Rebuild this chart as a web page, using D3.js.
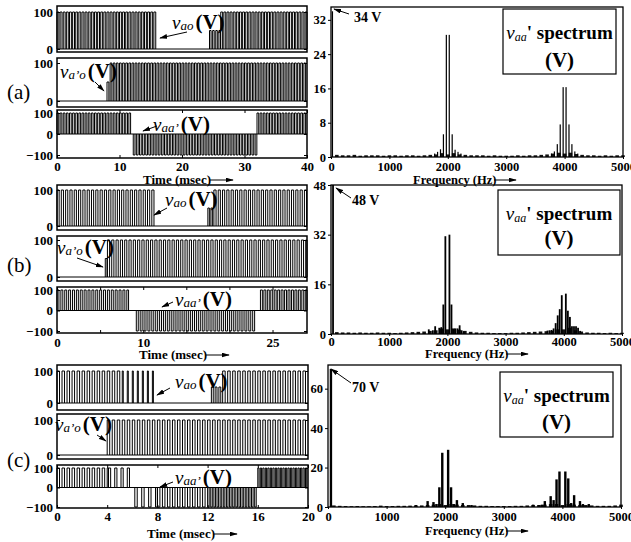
<!DOCTYPE html>
<html>
<head>
<meta charset="utf-8">
<script src="https://cdn.jsdelivr.net/npm/d3@7"></script>
<style>
body { margin: 0; background: #fff; }
svg { display: block; }
text { font-family: "Liberation Serif", "Tinos", "Times New Roman", "DejaVu Serif", serif; }
</style>
</head>
<body>
<svg width="631" height="542"></svg>
<script>
'use strict'

// ---------- data ----------
// pulse segments: [start ms, end ms, level V, duty, period ms]
// (a) 40 ms window
const timeTicksA = [0, 10, 20, 30, 40]
const timeLabelsA = [0, 10, 20, 30, 40]
const vaoA = [[0, 16, 100, 0.6, 0.5], [24.4, 26.2, 50, 0.5, 0.5], [26.2, 40, 100, 0.6, 0.5]]
const vapoA = [[8, 8.5, 50, 0.6, 0.5], [8.5, 40, 100, 0.55, 0.5]]
const vaaA = [[0, 12, 100, 0.55, 0.5], [12.2, 32, -100, 0.55, 0.5], [32, 40, 100, 0.55, 0.5]]

// (b) ~29 ms window
const timeTicksB = [0, 5, 10, 15, 20, 25]
const timeLabelsB = [0, 10, 25]
const vaoB = [[0, 11.4, 100, 0.5, 0.5], [17.5, 18.2, 50, 0.5, 0.35], [18.2, 29, 100, 0.5, 0.5]]
const vapoB = [[5.6, 5.85, 50, 0.8, 0.25], [5.85, 29, 100, 0.5, 0.5]]
const vaaB = [[0, 8.3, 100, 0.5, 0.45], [9.2, 23, -100, 0.5, 0.45], [23.6, 29, 100, 0.55, 0.4]]

// (c) 20 ms window
const timeTicksC = [0, 4, 8, 12, 16, 20]
const timeLabelsC = [0, 4, 8, 12, 16, 20]
const vaoC = [[0, 5.2, 100, 0.5, 0.4], [5.2, 7.8, 100, 0.2, 0.4], [12.3, 13.2, 50, 0.5, 0.3], [13.2, 20, 100, 0.5, 0.4]]
const vapoC = [[4, 20, 100, 0.5, 0.4]]
const vaaC = [[0, 4.1, 100, 0.5, 0.4], [4.1, 5.9, 100, 0.35, 0.5], [6.2, 8, -100, 0.35, 0.55],
  [8, 12, -100, 0.5, 0.4], [12, 16, -100, 0.5, 0.25], [16, 20, 100, 0.5, 0.2]]

// spectra of vaa' (Hz, V)
const specFreqA = [25, 1775, 1825, 1875, 1925, 1975, 2025, 2075, 2125, 2175, 2225,
  3775, 3825, 3875, 3925, 3975, 4025, 4075, 4125, 4175, 4225]
const specAmpA = [34, 0.8, 1.2, 1.8, 5.3, 28.5, 28.5, 5.3, 1.7, 1.2, 0.8,
  0.8, 1.3, 3, 7.6, 16.3, 16.3, 7.6, 3, 1.3, 0.8]
const specTicksA = [0, 8, 16, 24, 32]

const specFreqB = [35, 1680, 1750, 1790, 1860, 1895, 1930, 1965, 2035, 2070, 2105, 2140, 2175, 2210, 2245, 2280,
  3720, 3755, 3790, 3825, 3860, 3895, 3930, 3965, 4035, 4070, 4105, 4140, 4175, 4210, 4245, 4280]
const specAmpB = [48, 1.5, 1.2, 2.5, 2, 2.2, 9.5, 31.5, 32, 9.5, 1.5, 1.8, 1.8, 2.8, 1.2, 0.8,
  1.1, 1.2, 1.3, 1.8, 3.5, 6, 8, 12.5, 13, 7.5, 5.5, 2.5, 2.5, 2.5, 2, 1]
const specTicksB = [0, 16, 32, 48]

const specFreqC = [50, 1500, 1700, 1800, 1850, 1900, 1950, 2050, 2100, 2150, 2200, 2300, 2450,
  3500, 3600, 3650, 3700, 3800, 3850, 3900, 3950, 4050, 4100, 4150, 4200, 4300, 4350, 4450]
const specAmpC = [70, 1, 3, 2.5, 1.5, 10, 27.5, 29, 10, 1.5, 3.5, 2, 1,
  1.2, 1, 1.2, 3, 5.5, 3.5, 14, 18, 18, 14.5, 2, 6, 3, 1.5, 1.5]
const specTicksC = [0, 20, 40, 60]

// low-level background, one value per 100 Hz (100 ... 5000 Hz)
const floorFreqs = d3.range(100, 5001, 100)
const floorA = [0.5, 0.4, 0.4, 0.5, 0.3, 0.4, 0.4, 0.4, 0.3, 0.4,
  0.4, 0.3, 0.4, 0.4, 0.3, 0.4, 0.5, 0.6, 0.9, 0.6,
  0.9, 0.6, 0.5, 0.4, 0.4, 0.4, 0.3, 0.4, 0.3, 0.3,
  0.3, 0.4, 0.3, 0.4, 0.4, 0.5, 0.6, 0.8, 1.0, 0.8,
  1.0, 0.7, 0.5, 0.4, 0.4, 0.3, 0.4, 0.3, 0.4, 0.4]
const floorB = [0.6, 0.5, 0.5, 0.4, 0.5, 0.4, 0.4, 0.5, 0.4, 0.4,
  0.3, 0.4, 0.5, 0.6, 0.7, 0.8, 1.0, 1.2, 1.8, 1.5,
  1.8, 1.4, 1.0, 0.7, 0.5, 0.4, 0.4, 0.3, 0.3, 0.3,
  0.4, 0.4, 0.5, 0.6, 0.7, 0.8, 0.9, 1.0, 1.5, 1.5,
  2.0, 1.2, 0.8, 0.5, 0.4, 0.4, 0.3, 0.4, 0.3, 0.4]
const floorC = [0.8, 0.6, 0.5, 0.4, 0.5, 0.4, 0.4, 0.5, 0.7, 0.5,
  0.5, 0.6, 0.6, 0.7, 0.8, 0.8, 1.0, 1.2, 1.5, 1.0,
  1.5, 1.2, 1.0, 1.0, 0.8, 0.6, 0.6, 0.5, 0.5, 0.5,
  0.5, 0.6, 0.6, 0.8, 1.0, 1.0, 1.2, 1.5, 1.5, 1.0,
  1.5, 1.2, 1.0, 1.0, 0.8, 0.6, 0.6, 0.6, 0.8, 1.2]
const freqTicks = [0, 1000, 2000, 3000, 4000, 5000]

// ---------- drawing ----------
const svg = d3.select('svg')

const head = svg.append('defs').append('marker')
    .attr('id', 'head')
    .attr('viewBox', '0 0 10 6')
    .attr('refX', 9)
    .attr('refY', 3)
    .attr('markerWidth', 8)
    .attr('markerHeight', 5)
    .attr('markerUnits', 'userSpaceOnUse')
    .attr('orient', 'auto')
head.append('path').attr('d', 'M0,0L10,3L0,6Z')

function arrow(x1, y1, x2, y2) {
    svg.append('line')
        .attr('x1', x1).attr('y1', y1)
        .attr('x2', x2).attr('y2', y2)
        .attr('stroke', '#000')
        .attr('stroke-width', 1)
        .attr('marker-end', 'url(#head)')
}

function styleAxis(g, size) {
    g.attr('font-size', size).attr('font-weight', 'bold')
    g.select('.domain').remove()
}

// one waveform strip
function strip(b, dom, x0, x1, segs) {
    const x = d3.scaleLinear().domain(dom).range([x0, x1])
    const y = d3.scaleLinear().domain([b.lo, 100]).range([b.yLo, b.y100])
    const g = svg.append('g')

    let d = `M${x(dom[0])},${y(0)}H${x(dom[1])}`
    segs.forEach(([t0, t1, lev, duty, per]) => {
        for (let t = t0; t < t1 - 1e-6; t += per) {
            const te = Math.min(t + duty * per, t1)
            d += `M${x(t)},${y(0)}V${y(lev)}H${x(te)}V${y(0)}`
        }
    })
    g.append('path')
        .attr('d', d)
        .attr('fill', 'none')
        .attr('stroke', '#000')
        .attr('stroke-width', 1)

    g.append('rect')
        .attr('x', x0).attr('y', b.top)
        .attr('width', x1 - x0).attr('height', b.bottom - b.top)
        .attr('fill', 'none').attr('stroke', '#000').attr('stroke-width', 1.5)

    const vals = b.lo < 0 ? [-100, 0, 100] : [0, 100]
    g.append('g')
        .attr('transform', `translate(${x0},0)`)
        .call(d3.axisLeft(y).tickValues(vals).tickSize(-3).tickPadding(4))
        .call(a => styleAxis(a, 13))
    g.append('g')
        .attr('transform', `translate(${x1},0)`)
        .call(d3.axisRight(y).tickValues(vals).tickSize(-3).tickFormat(''))
        .call(a => a.select('.domain').remove())
    return { x, g }
}

function timePanel(p, segsList, ticks, labels) {
    let last
    p.boxes.forEach((b, i) => { last = strip(b, p.dom, p.x0, p.x1, segsList[i]) })
    const b = p.boxes[2]
    last.g.append('g')
        .attr('transform', `translate(0,${b.bottom})`)
        .call(d3.axisBottom(last.x).tickValues(ticks).tickSize(-3).tickPadding(p.pad)
            .tickFormat(d => labels.includes(d) ? d : ''))
        .call(a => styleAxis(a, 13))
    last.g.append('g')
        .attr('transform', `translate(0,${b.top})`)
        .call(d3.axisTop(last.x).tickValues(ticks).tickSize(-3).tickFormat(''))
        .call(a => a.select('.domain').remove())

    svg.append('text')
        .attr('x', p.tx).attr('y', p.ty)
        .attr('font-size', 13).attr('font-weight', 'bold')
        .text('Time (msec)')
    arrow(p.tx + 67, p.ty - 4, p.tx + 90, p.ty - 4)
}

function spectrum(p, freqs, amps, floor, ticks) {
    const x = d3.scaleLinear().domain([0, 5000]).range([p.x0, p.x1])
    const y = d3.scaleLinear().domain([0, p.ymax]).range([p.y0, p.top])
    const g = svg.append('g')

    g.append('g').selectAll('rect')
        .data(floor)
        .join('rect')
        .attr('x', (d, i) => x(floorFreqs[i]) - 1.8)
        .attr('width', 3.6)
        .attr('y', d => y(d))
        .attr('height', d => y(0) - y(d))
        .attr('fill', '#111')

    g.append('g').selectAll('rect')
        .data(freqs)
        .join('rect')
        .attr('x', d => x(d) - p.bw / 2)
        .attr('width', p.bw)
        .attr('y', (d, i) => y(amps[i]))
        .attr('height', (d, i) => y(0) - y(amps[i]))
        .attr('fill', '#000')

    g.append('rect')
        .attr('x', p.x0).attr('y', p.top)
        .attr('width', p.x1 - p.x0).attr('height', p.y0 - p.top)
        .attr('fill', 'none').attr('stroke', '#000').attr('stroke-width', 1.3)

    g.append('g')
        .attr('transform', `translate(${p.x0},0)`)
        .call(d3.axisLeft(y).tickValues(ticks).tickSize(3).tickPadding(2))
        .call(a => styleAxis(a, 12.5))
    g.append('g')
        .attr('transform', `translate(0,${p.y0})`)
        .call(d3.axisBottom(x).tickValues(freqTicks).tickSize(2).tickPadding(p.pad)
            .tickFormat(d3.format('d')))
        .call(a => styleAxis(a, 12.5))

    // peak note
    svg.append('text')
        .attr('x', p.nx).attr('y', p.ny)
        .attr('font-size', 14).attr('font-weight', 'bold')
        .text(p.note)
    arrow(p.ax1, p.ay1, p.ax2, p.ay2)

    // legend box
    const lg = svg.append('g')
    lg.append('rect')
        .attr('x', p.lx0).attr('y', p.ly0)
        .attr('width', p.lx1 - p.lx0).attr('height', p.ly1 - p.ly0)
        .attr('fill', '#fff').attr('stroke', '#000').attr('stroke-width', 1.2)
    const cx = (p.lx0 + p.lx1) / 2
    const t1 = lg.append('text').attr('x', cx).attr('y', p.l1).attr('text-anchor', 'middle')
    t1.append('tspan').attr('font-style', 'italic').attr('font-size', 19).text('v')
    t1.append('tspan').attr('font-style', 'italic').attr('font-size', 12).attr('dy', 2).text('aa')
    t1.append('tspan').attr('font-weight', 'bold').attr('font-size', 19).attr('dy', -2).text('\' spectrum')
    lg.append('text').attr('x', cx).attr('y', p.l2).attr('text-anchor', 'middle')
        .attr('font-weight', 'bold').attr('font-size', 21).text('(V)')

    svg.append('text')
        .attr('x', p.fx).attr('y', p.fy)
        .attr('font-size', 12.5).attr('font-weight', 'bold')
        .text('Frequency (Hz)')
    arrow(p.fx + 81, p.fy - 4, p.fx + 103, p.fy - 4)
}

function vLabel(x, y, sub, ax1, ay1, ax2, ay2) {
    const t = svg.append('text').attr('x', x).attr('y', y)
    t.append('tspan').attr('font-style', 'italic').attr('font-size', 19).text('v')
    t.append('tspan').attr('font-style', 'italic').attr('font-size', 13).attr('dy', 1).text(sub)
    t.append('tspan').attr('font-weight', 'bold').attr('font-size', 21).attr('dy', -1).attr('dx', 2).text('(V)')
    arrow(ax1, ay1, ax2, ay2)
}

function panelTag(y, s) {
    svg.append('text').attr('x', 7).attr('y', y).attr('font-size', 21).text(s)
}

// ----- panel (a)
timePanel({
    dom: [0, 40], x0: 57, x1: 307, pad: 4, tx: 143, ty: 184,
    boxes: [
        { top: 6, bottom: 52, y100: 12, yLo: 49, lo: 0 },
        { top: 58, bottom: 107, y100: 63, yLo: 101, lo: 0 },
        { top: 110, bottom: 158, y100: 113, yLo: 155, lo: -100 }
    ]
}, [vaoA, vapoA, vaaA], timeTicksA, timeLabelsA)
spectrum({
    x0: 331, x1: 623, top: 7, y0: 157, ymax: 35, bw: 1.2, pad: 3,
    note: '34 V', nx: 354, ny: 22, ax1: 349, ay1: 14, ax2: 334, ay2: 9,
    lx0: 503, lx1: 616, ly0: 9, ly1: 74, l1: 39, l2: 67,
    fx: 413, fy: 184
}, specFreqA, specAmpA, floorA, specTicksA)
vLabel(172, 29, 'ao', 187, 32, 160, 38)
vLabel(60, 78, 'a\u2019o', 95, 82, 104, 91)
vLabel(153, 131, 'aa\u2019', 157, 126, 143, 131)
panelTag(99, '(a)')

// ----- panel (b)
timePanel({
    dom: [0, 29], x0: 57, x1: 307, pad: 5, tx: 139, ty: 359,
    boxes: [
        { top: 185, bottom: 230, y100: 190, yLo: 226, lo: 0 },
        { top: 236, bottom: 281, y100: 240, yLo: 277, lo: 0 },
        { top: 287, bottom: 333, y100: 290, yLo: 331, lo: -100 }
    ]
}, [vaoB, vapoB, vaaB], timeTicksB, timeLabelsB)
spectrum({
    x0: 331, x1: 622, top: 185, y0: 334, ymax: 48, bw: 1.8, pad: 1.5,
    note: '48 V', nx: 352, ny: 205, ax1: 351, ay1: 198, ax2: 336, ay2: 188,
    lx0: 498, lx1: 620, ly0: 190, ly1: 255, l1: 220, l2: 245,
    fx: 425, fy: 358
}, specFreqB, specAmpB, floorB, specTicksB)
vLabel(165, 206, 'ao', 167, 208, 154, 215)
vLabel(57, 254, 'a\u2019o', 77, 258, 103, 267)
vLabel(175, 306, 'aa\u2019', 173, 302, 162, 307)
panelTag(272, '(b)')

// ----- panel (c)
timePanel({
    dom: [0, 20], x0: 57, x1: 308, pad: 4, tx: 147, ty: 538,
    boxes: [
        { top: 365, bottom: 410, y100: 371, yLo: 403, lo: 0 },
        { top: 414, bottom: 459, y100: 420, yLo: 455, lo: 0 },
        { top: 465, bottom: 508, y100: 468, yLo: 507, lo: -100 }
    ]
}, [vaoC, vapoC, vaaC], timeTicksC, timeLabelsC)
spectrum({
    x0: 328, x1: 621, top: 365, y0: 507, ymax: 72, bw: 2.4, pad: 3,
    note: '70 V', nx: 352, ny: 392, ax1: 351, ay1: 383, ax2: 331, ay2: 369,
    lx0: 500, lx1: 613, ly0: 372, ly1: 437, l1: 402, l2: 429,
    fx: 425, fy: 535
}, specFreqC, specAmpC, floorC, specTicksC)
vLabel(175, 388, 'ao', 170, 388, 157, 395)
vLabel(55, 431, 'a\u2019o', 97, 435, 106, 441)
vLabel(175, 484, 'aa\u2019', 173, 482, 160, 487)
panelTag(467, '(c)')
</script>
</body>
</html>
